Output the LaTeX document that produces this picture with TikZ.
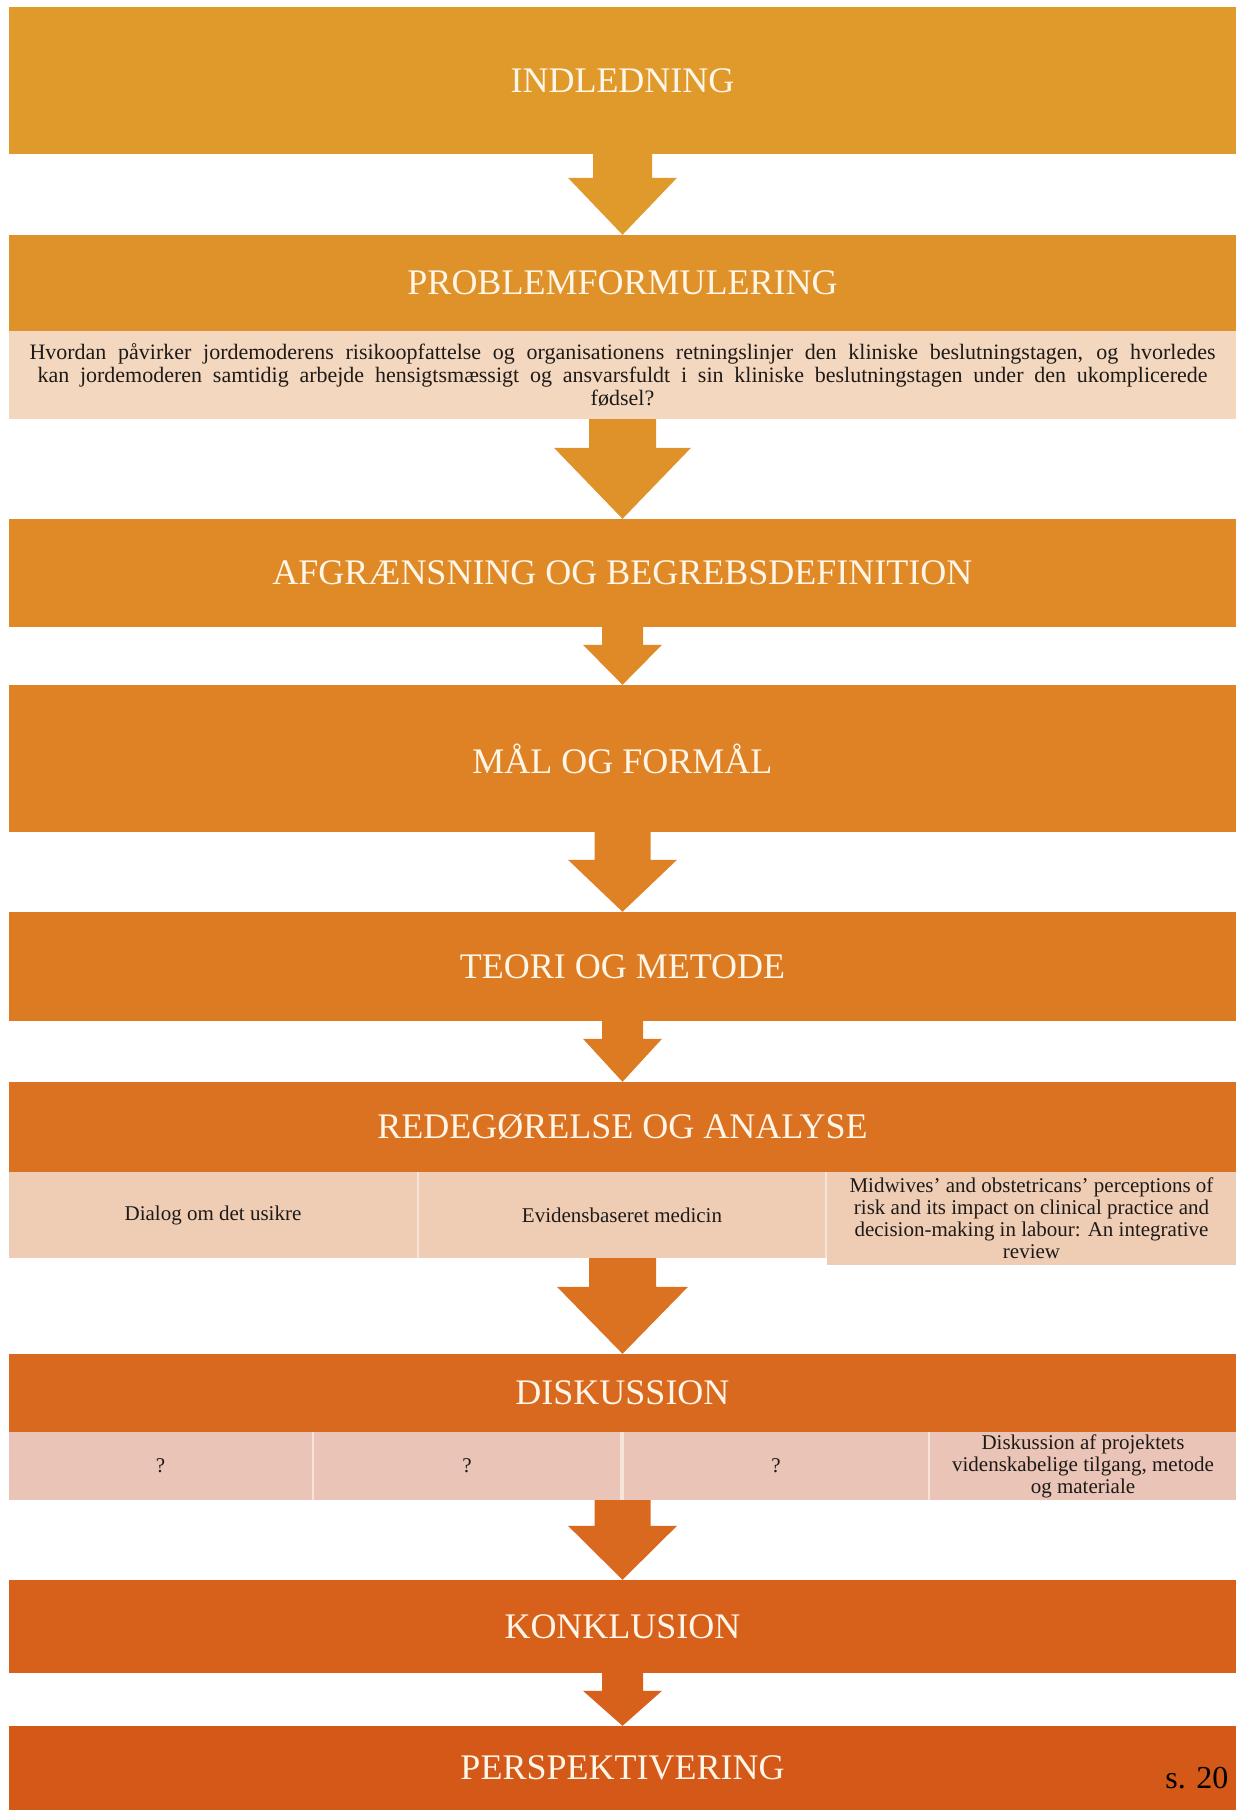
\documentclass[tikz,border=0pt]{standalone}
\usepackage{fontspec}
\setmainfont{Liberation Serif}
\usetikzlibrary{calc}

\definecolor{lvlA}{HTML}{E09A2B}
\definecolor{lvlB}{HTML}{DF922A}
\definecolor{lvlC}{HTML}{DF8A27}
\definecolor{lvlD}{HTML}{DE8225}
\definecolor{lvlE}{HTML}{DD7B23}
\definecolor{lvlF}{HTML}{DB7221}
\definecolor{lvlG}{HTML}{D9691E}
\definecolor{lvlH}{HTML}{D7601B}
\definecolor{lvlI}{HTML}{D45818}
\definecolor{lightA}{HTML}{F4D7BF}
\definecolor{lightB}{HTML}{EFCDB5}
\definecolor{lightC}{HTML}{EAC4B6}
\definecolor{rowline}{HTML}{F6E4D8}
\definecolor{titlecream}{HTML}{FFF6E8}
\definecolor{bodyink}{HTML}{1E1A18}

% block arrow: from, to, half shaft, half head, head length, colour
\newcommand{\flowarrow}[6]{%
  \fill[#6] let \p1=(#1.south), \p2=(#2.north) in
    (\x2-#3pt,\y1) -- (\x2+#3pt,\y1) -- (\x2+#3pt,\y2+#5pt) -- (\x2+#4pt,\y2+#5pt)
    -- (\x2,\y2) -- (\x2-#4pt,\y2+#5pt) -- (\x2-#3pt,\y2+#5pt) -- cycle;}

\begin{document}
\begin{tikzpicture}[x=1pt,y=1pt,
  stage/.style={rectangle, minimum width=1227pt, inner sep=0pt, text=titlecream,
    font=\fontsize{36}{41}\selectfont},
  cell/.style={rectangle, inner sep=0pt, text=bodyink, align=center,
    font=\fontsize{21}{22}\selectfont}]
\useasboundingbox (0,0) rectangle (1238,-1810);

% Stages
\node[stage, fill=lvlA, minimum height=147pt] (indledning) at (622.5,-80.5) {INDLEDNING};
\node[stage, fill=lvlB, minimum height=96pt] (problem) at (622.5,-283) {PROBLEMFORMULERING};
\node[cell, fill=lightA, minimum width=1227pt, minimum height=88pt,
  font=\fontsize{22}{23}\selectfont] (question) at (622.5,-375)
  {\makebox[1186pt][s]{Hvordan påvirker jordemoderens risikoopfattelse og organisationens retningslinjer den kliniske beslutningstagen, og hvorledes}\\
   \makebox[1170pt][s]{kan jordemoderen samtidig arbejde hensigtsmæssigt og ansvarsfuldt i sin kliniske beslutningstagen under den ukomplicerede}\\
   fødsel?};
\node[stage, fill=lvlC, minimum height=108pt] (afgraensning) at (622.5,-573) {AFGRÆNSNING OG BEGREBSDEFINITION};
\node[stage, fill=lvlD, minimum height=147pt] (maal) at (622.5,-758.5) {MÅL OG FORMÅL};
\node[stage, fill=lvlE, minimum height=109pt] (teori) at (622.5,-966.5) {TEORI OG METODE};
\node[stage, fill=lvlF, minimum height=90pt] (redegoerelse) at (622.5,-1127) {REDEGØRELSE OG ANALYSE};

% Analysis row
\fill[rowline] (9,-1172) rectangle (1236,-1258);
\node[cell, fill=lightB, minimum width=408pt, minimum height=86pt] (dialog) at (213,-1215) {Dialog om det usikre};
\node[cell, fill=lightB, minimum width=406pt, minimum height=86pt] (evidens) at (622,-1215) {Evidensbaseret medicin};
\node[cell, fill=lightB, minimum width=409pt, minimum height=93pt] (midwives) at (1031.5,-1218.5)
  {Midwives’ and obstetricans’ perceptions of\\risk and its impact on clinical practice and\\decision-making in labour: An integrative\\review};

\node[stage, fill=lvlG, minimum height=78pt] (diskussion) at (622.5,-1393) {DISKUSSION};

% Discussion row
\fill[rowline] (9,-1432) rectangle (1236,-1500);
\node[cell, fill=lightC, minimum width=303pt, minimum height=68pt] (spA) at (160.5,-1466) {?};
\node[cell, fill=lightC, minimum width=306pt, minimum height=68pt] (spB) at (467,-1466) {?};
\node[cell, fill=lightC, minimum width=304pt, minimum height=68pt] (spC) at (776,-1466) {?};
\node[cell, fill=lightC, minimum width=306pt, minimum height=68pt] (metode) at (1083,-1466)
  {Diskussion af projektets\\videnskabelige tilgang, metode\\og materiale};

\node[stage, fill=lvlH, minimum height=93pt] (konklusion) at (622.5,-1626.5) {KONKLUSION};
\node[stage, fill=lvlI, minimum height=84pt] (perspektivering) at (622.5,-1768) {PERSPEKTIVERING};

% Page number
\node[anchor=base east, font=\fontsize{32}{36}\selectfont] (side) at (1232,-1788) {s. 20};

% Connectors
\flowarrow{indledning}{problem}{29.5}{54.5}{57}{lvlA}
\flowarrow{question}{afgraensning}{33.5}{68.5}{71}{lvlB}
\flowarrow{afgraensning}{maal}{20.5}{39.5}{40}{lvlC}
\flowarrow{maal}{teori}{28}{54.5}{52}{lvlD}
\flowarrow{teori}{redegoerelse}{20.5}{39.5}{43}{lvlE}
\flowarrow{evidens}{diskussion}{33.5}{65.5}{67}{lvlF}
\flowarrow{spB}{konklusion}{28}{54.5}{54}{lvlG}
\flowarrow{konklusion}{perspektivering}{20.5}{39.5}{35}{lvlH}
\end{tikzpicture}
\end{document}
